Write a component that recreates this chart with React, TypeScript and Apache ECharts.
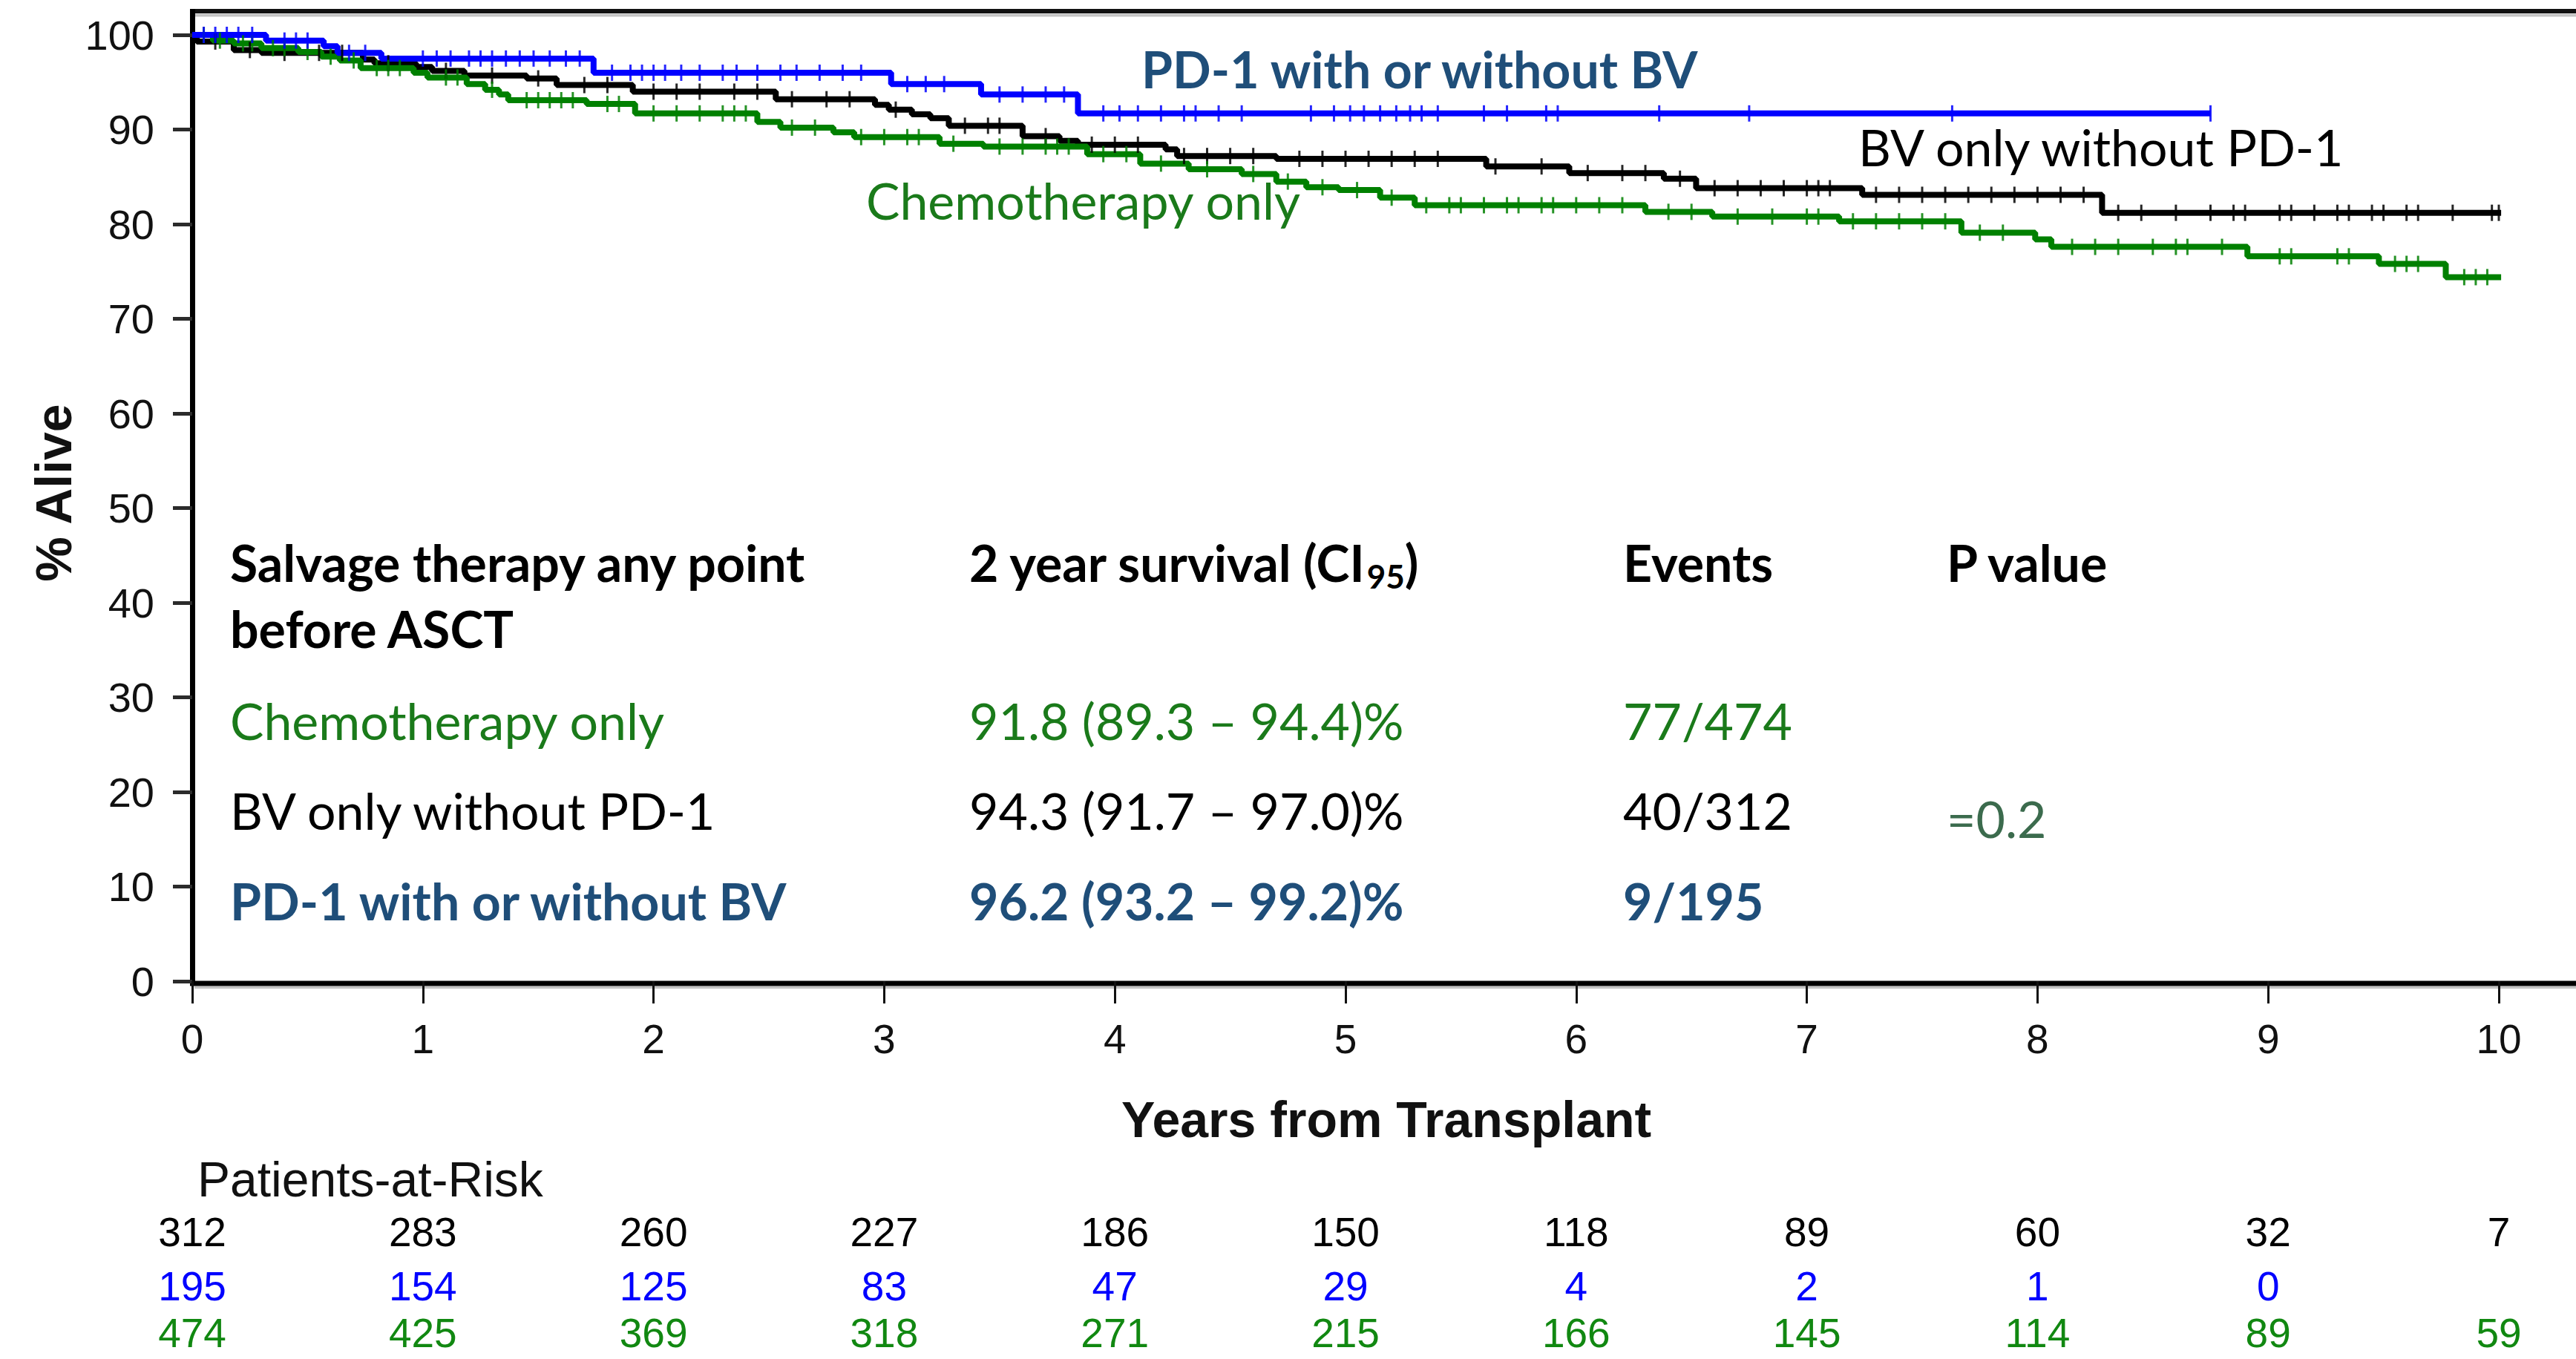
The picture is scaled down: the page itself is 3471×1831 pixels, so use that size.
import React, { useEffect, useRef } from "react";
import * as echarts from "echarts";

const W = 3471;
const H = 1831;

// ---------- data ----------
const yearTicks = [0, 1, 2, 3, 4, 5, 6, 7, 8, 9, 10];
const survivalTicks = [0, 10, 20, 30, 40, 50, 60, 70, 80, 90, 100];

// BV only without PD-1 (black)
const bvTimes = [0, 0.02, 0.18, 0.3, 0.74, 0.79, 0.97, 1.04, 1.18, 1.45, 1.58, 1.91, 2.53, 2.96, 3.02, 3.12, 3.2, 3.28, 3.6, 3.76, 3.84, 4.22, 4.27, 4.7, 5.61, 5.97, 6.38, 6.52, 7.24, 8.28, 10.01];
const bvSurv = [100, 99.3, 98.4, 98.1, 97.4, 97.0, 96.6, 96.2, 95.7, 95.4, 94.7, 94.0, 93.2, 92.6, 92.1, 91.6, 91.2, 90.4, 89.3, 88.8, 88.4, 87.9, 87.2, 86.9, 86.1, 85.4, 84.8, 83.8, 83.1, 81.2, 81.2];
const bvCensor = [0.1, 0.25, 0.4, 0.55, 0.65, 0.85, 1.1, 1.3, 1.5, 1.7, 1.8, 2.0, 2.1, 2.2, 2.35, 2.45, 2.6, 2.75, 2.85, 3.05, 3.35, 3.45, 3.5, 3.7, 3.9, 4.0, 4.1, 4.3, 4.4, 4.5, 4.6, 4.8, 4.9, 5.0, 5.1, 5.2, 5.3, 5.4, 5.65, 5.85, 6.05, 6.2, 6.3, 6.45, 6.6, 6.7, 6.8, 6.9, 7.0, 7.05, 7.1, 7.3, 7.4, 7.5, 7.6, 7.7, 7.8, 7.9, 8.0, 8.1, 8.2, 8.35, 8.45, 8.6, 8.75, 8.85, 8.9, 9.05, 9.1, 9.2, 9.3, 9.35, 9.45, 9.5, 9.6, 9.65, 9.8, 9.97, 10.0];

// PD-1 with or without BV (blue)
const pdTimes = [0, 0.32, 0.57, 0.63, 0.82, 1.74, 3.03, 3.42, 3.84, 8.75];
const pdSurv = [100, 99.4, 98.8, 98.1, 97.5, 96.0, 94.8, 93.7, 91.7, 91.7];
const pdCensor = [0.05, 0.1, 0.15, 0.2, 0.26, 0.4, 0.45, 0.5, 0.68, 0.75, 1.0, 1.06, 1.12, 1.2, 1.25, 1.3, 1.36, 1.42, 1.48, 1.55, 1.62, 1.68, 1.82, 1.9, 1.95, 2.0, 2.05, 2.12, 2.2, 2.3, 2.36, 2.45, 2.55, 2.62, 2.72, 2.82, 2.9, 3.1, 3.18, 3.26, 3.5, 3.6, 3.7, 3.78, 3.95, 4.02, 4.1, 4.2, 4.3, 4.35, 4.45, 4.55, 4.85, 4.95, 5.02, 5.08, 5.15, 5.22, 5.28, 5.33, 5.4, 5.6, 5.7, 5.87, 5.92, 6.36, 6.75, 7.63, 8.75];

// Chemotherapy only (green)
const chemoTimes = [0, 0.09, 0.18, 0.3, 0.46, 0.56, 0.64, 0.73, 0.96, 1.02, 1.19, 1.27, 1.33, 1.37, 1.71, 1.92, 2.45, 2.55, 2.78, 2.87, 3.24, 3.43, 3.88, 4.11, 4.32, 4.55, 4.7, 4.83, 4.97, 5.15, 5.3, 6.3, 6.59, 7.14, 7.67, 7.99, 8.06, 8.91, 9.48, 9.77, 10.01];
const chemoSurv = [100, 99.4, 99.1, 98.6, 98.2, 97.7, 97.3, 96.5, 96.0, 95.5, 94.8, 94.2, 93.7, 93.1, 92.7, 91.7, 90.8, 90.2, 89.7, 89.2, 88.5, 88.2, 87.4, 86.4, 85.8, 85.3, 84.5, 83.9, 83.6, 82.8, 82.0, 81.3, 80.8, 80.3, 79.1, 78.4, 77.6, 76.6, 75.8, 74.4, 74.4];
const chemoCensor = [0.05, 0.12, 0.22, 0.26, 0.35, 0.4, 0.5, 0.6, 0.7, 0.8, 0.85, 0.9, 1.1, 1.15, 1.3, 1.45, 1.5, 1.55, 1.6, 1.65, 1.8, 1.85, 2.0, 2.1, 2.2, 2.3, 2.35, 2.4, 2.6, 2.7, 2.9, 3.0, 3.1, 3.15, 3.3, 3.5, 3.6, 3.7, 3.75, 3.8, 3.95, 4.05, 4.2, 4.4, 4.6, 4.75, 4.9, 5.05, 5.2, 5.35, 5.45, 5.5, 5.6, 5.7, 5.75, 5.85, 5.9, 6.0, 6.1, 6.2, 6.4, 6.5, 6.7, 6.85, 7.0, 7.05, 7.2, 7.3, 7.4, 7.5, 7.6, 7.75, 7.85, 8.15, 8.25, 8.35, 8.5, 8.6, 8.65, 8.8, 9.05, 9.1, 9.3, 9.35, 9.55, 9.6, 9.65, 9.85, 9.9, 9.95];

// Patients at risk at each year
const riskBV = [312, 283, 260, 227, 186, 150, 118, 89, 60, 32, 7];
const riskPD = [195, 154, 125, 83, 47, 29, 4, 2, 1, 0];
const riskChemo = [474, 425, 369, 318, 271, 215, 166, 145, 114, 89, 59];

// Summary table
const groupNames = ["Chemotherapy only", "BV only without PD-1", "PD-1 with or without BV"];
const survival2y = ["91.8 (89.3 \u2013 94.4)%", "94.3 (91.7 \u2013 97.0)%", "96.2 (93.2 \u2013 99.2)%"];
const eventCounts = ["77/474", "40/312", "9/195"];
const pValueText = "=0.2";

// ---------- styling ----------
const GREEN_LINE = "#008000";
const BLUE_LINE = "#0000ff";
const BLACK_LINE = "#000000";
const GREEN_TEXT = "#1a7a1a";
const NAVY_TEXT = "#1f4e79";
const P_TEXT = "#3b6b4d";
const TABLE_FONT = "Lato, 'Open Sans', sans-serif";
const AXIS_FONT = "'Liberation Sans', Arial, sans-serif";

const GRID_LEFT = 259;
const GRID_RIGHT = 104;
const GRID_TOP = 47;
const GRID_BOTTOM = H - 1322;

function survAt(times: number[], surv: number[], t: number) {
  let v = surv[0];
  for (let i = 0; i < times.length; i++) if (times[i] <= t) v = surv[i];
  return v;
}

function measure(text: string, font: string) {
  const c = document.createElement("canvas").getContext("2d");
  if (!c) return text.length * 30;
  c.font = font;
  return c.measureText(text).width;
}

export default function App() {
  const ref = useRef<HTMLDivElement>(null);
  useEffect(() => {
    if (!ref.current) return;
    const chart = echarts.init(ref.current, null, { renderer: "svg" });

    const zip = (ts: number[], vs: number[]) => ts.map((t, i) => [t, vs[i]]);
    const censorPts = (cs: number[], ts: number[], vs: number[]) => cs.map((t) => [t, survAt(ts, vs, t)]);

    const riskFont = 55;
    const riskRows = [
      { vals: riskBV, color: "#000000", yc: 1660 },
      { vals: riskPD, color: "#0000ff", yc: 1733 },
      { vals: riskChemo, color: "#118811", yc: 1796 },
    ];

    const grids: any[] = [
      { left: GRID_LEFT, right: GRID_RIGHT, top: GRID_TOP, bottom: GRID_BOTTOM, containLabel: false },
    ];
    const xAxes: any[] = [
      {
        gridIndex: 0,
        type: "value",
        min: 0,
        max: 10,
        interval: 1,
        name: "Years from Transplant",
        nameLocation: "middle",
        nameGap: 152,
        nameTextStyle: { fontFamily: AXIS_FONT, fontWeight: "bold", fontSize: 68, color: "#111", padding: [0, 0, 0, 110] },
        axisLine: { show: false },
        axisTick: { show: true, length: 30, lineStyle: { color: "#111", width: 3 } },
        splitLine: { show: false },
        axisLabel: {
          margin: 50,
          fontFamily: AXIS_FONT,
          fontSize: 55,
          color: "#111",
          showMinLabel: true,
          showMaxLabel: true,
          formatter: (v: number) => (yearTicks.includes(v) ? String(v) : ""),
        },
      },
    ];
    const yAxes: any[] = [
      {
        gridIndex: 0,
        type: "value",
        min: 0,
        max: 100,
        interval: 10,
        axisLine: { show: false },
        axisTick: { show: true, length: 26, lineStyle: { color: "#2b2b2b", width: 5 } },
        splitLine: { show: false },
        axisLabel: {
          margin: 51,
          fontFamily: AXIS_FONT,
          fontSize: 56,
          color: "#111",
          showMinLabel: true,
          showMaxLabel: true,
          formatter: (v: number) => (survivalTicks.includes(v) ? String(v) : ""),
        },
      },
    ];

    riskRows.forEach((row, i) => {
      const gi = i + 1;
      const lh = 50;
      grids.push({ left: GRID_LEFT, right: GRID_RIGHT, top: row.yc - lh / 2 - 1, height: 1 });
      xAxes.push({
        gridIndex: gi,
        type: "value",
        min: 0,
        max: 10,
        interval: 1,
        axisLine: { show: false },
        axisTick: { show: false },
        splitLine: { show: false },
        axisLabel: {
          margin: 0,
          fontFamily: AXIS_FONT,
          fontSize: riskFont,
          lineHeight: lh,
          color: row.color,
          showMinLabel: true,
          showMaxLabel: true,
          formatter: (v: number) => {
            const val = row.vals[v];
            return val === undefined ? "" : String(val);
          },
        },
      });
      yAxes.push({ gridIndex: gi, type: "value", show: false, min: 0, max: 1 });
    });

    const lineSeries = (name: string, ts: number[], vs: number[], color: string, z: number) => ({
      type: "line",
      name,
      xAxisIndex: 0,
      yAxisIndex: 0,
      data: zip(ts, vs),
      step: "end",
      showSymbol: false,
      symbol: "none",
      silent: true,
      z,
      lineStyle: { color, width: 8 },
      itemStyle: { color },
    });
    const censorSeries = (name: string, cs: number[], ts: number[], vs: number[], color: string, z: number) => ({
      type: "scatter",
      name,
      xAxisIndex: 0,
      yAxisIndex: 0,
      data: censorPts(cs, ts, vs),
      symbol: "rect",
      symbolSize: [3, 22],
      silent: true,
      z,
      itemStyle: { color, opacity: 0.85 },
    });

    // ---- table text ----
    const colX = [310, 1306, 2187, 2623];
    const headerY = 757;
    const header2Y = 846;
    const rowY = [970, 1091, 1213];
    const tFS = 68;
    const rowColors = [GREEN_TEXT, "#000000", NAVY_TEXT];
    const rowWeights = ["normal", "normal", "bold"];

    const txt = (text: string, x: number, y: number, fill: string, weight: string, size: number, family = TABLE_FONT) => ({
      type: "text",
      x,
      y,
      silent: true,
      style: { text, fill, fontFamily: family, fontWeight: weight, fontSize: size, align: "left", verticalAlign: "middle" },
    });

    const hdrFont = `bold ${tFS}px Lato`;
    const part1 = "2 year survival (CI";
    const w1 = measure(part1, hdrFont);
    const subFS = 44;
    const w2 = measure("95", `bold ${subFS}px Lato`);

    const graphics: any[] = [
      // frame
      { type: "line", silent: true, shape: { x1: 262, y1: 20.5, x2: W, y2: 20.5 }, style: { stroke: "#c4c4c4", lineWidth: 4 } },
      { type: "line", silent: true, shape: { x1: 256, y1: 15, x2: W, y2: 15 }, style: { stroke: "#111", lineWidth: 6 } },
      { type: "line", silent: true, shape: { x1: 262, y1: 1330.5, x2: W, y2: 1330.5 }, style: { stroke: "#c4c4c4", lineWidth: 3 } },
      { type: "line", silent: true, shape: { x1: 256, y1: 1325, x2: W, y2: 1325 }, style: { stroke: "#000", lineWidth: 7 } },
      { type: "line", silent: true, shape: { x1: 259.5, y1: 12, x2: 259.5, y2: 1328 }, style: { stroke: "#000", lineWidth: 7 } },
      // y axis title
      {
        type: "text",
        x: 72,
        y: 664,
        rotation: Math.PI / 2,
        silent: true,
        style: { text: "% Alive", fill: "#111", fontFamily: AXIS_FONT, fontWeight: "bold", fontSize: 68, align: "center", verticalAlign: "middle" },
      },
      // curve labels
      txt(groupNames[2], 1538, 92, NAVY_TEXT, "bold", tFS),
      txt(groupNames[1], 2504, 197, "#000000", "normal", tFS),
      txt(groupNames[0], 1167, 269, GREEN_TEXT, "normal", tFS),
      // table header
      txt("Salvage therapy any point", colX[0], headerY, "#000", "bold", tFS),
      txt("before ASCT", colX[0], header2Y, "#000", "bold", tFS),
      txt(part1, colX[1], headerY, "#000", "bold", tFS),
      txt("95", colX[1] + w1, headerY + 19, "#000", "bold", subFS),
      txt(")", colX[1] + w1 + w2, headerY, "#000", "bold", tFS),
      txt("Events", colX[2], headerY, "#000", "bold", tFS),
      txt("P value", colX[3], headerY, "#000", "bold", tFS),
      txt(pValueText, colX[3], 1102, P_TEXT, "normal", tFS),
      // patients at risk title
      txt("Patients-at-Risk", 266, 1589, "#111", "normal", 66, AXIS_FONT),
    ];
    groupNames.forEach((g, i) => {
      graphics.push(txt(g, colX[0], rowY[i], rowColors[i], rowWeights[i], tFS));
      graphics.push(txt(survival2y[i], colX[1], rowY[i], rowColors[i], rowWeights[i], tFS));
      graphics.push(txt(eventCounts[i], colX[2], rowY[i], rowColors[i], rowWeights[i], tFS));
    });

    chart.setOption({
      animation: false,
      backgroundColor: "#ffffff",
      grid: grids,
      xAxis: xAxes,
      yAxis: yAxes,
      series: [
        lineSeries("BV only without PD-1", bvTimes, bvSurv, BLACK_LINE, 2),
        lineSeries("Chemotherapy only", chemoTimes, chemoSurv, GREEN_LINE, 3),
        lineSeries("PD-1 with or without BV", pdTimes, pdSurv, BLUE_LINE, 4),
        censorSeries("BV censored", bvCensor, bvTimes, bvSurv, BLACK_LINE, 5),
        censorSeries("Chemo censored", chemoCensor, chemoTimes, chemoSurv, GREEN_LINE, 5),
        censorSeries("PD-1 censored", pdCensor, pdTimes, pdSurv, BLUE_LINE, 5),
      ],
      graphic: { elements: graphics },
    });

    return () => chart.dispose();
  }, []);

  return (
    <div
      ref={ref}
      style={{ position: "fixed", left: 0, top: 0, width: W, height: H, background: "#ffffff" }}
    />
  );
}
